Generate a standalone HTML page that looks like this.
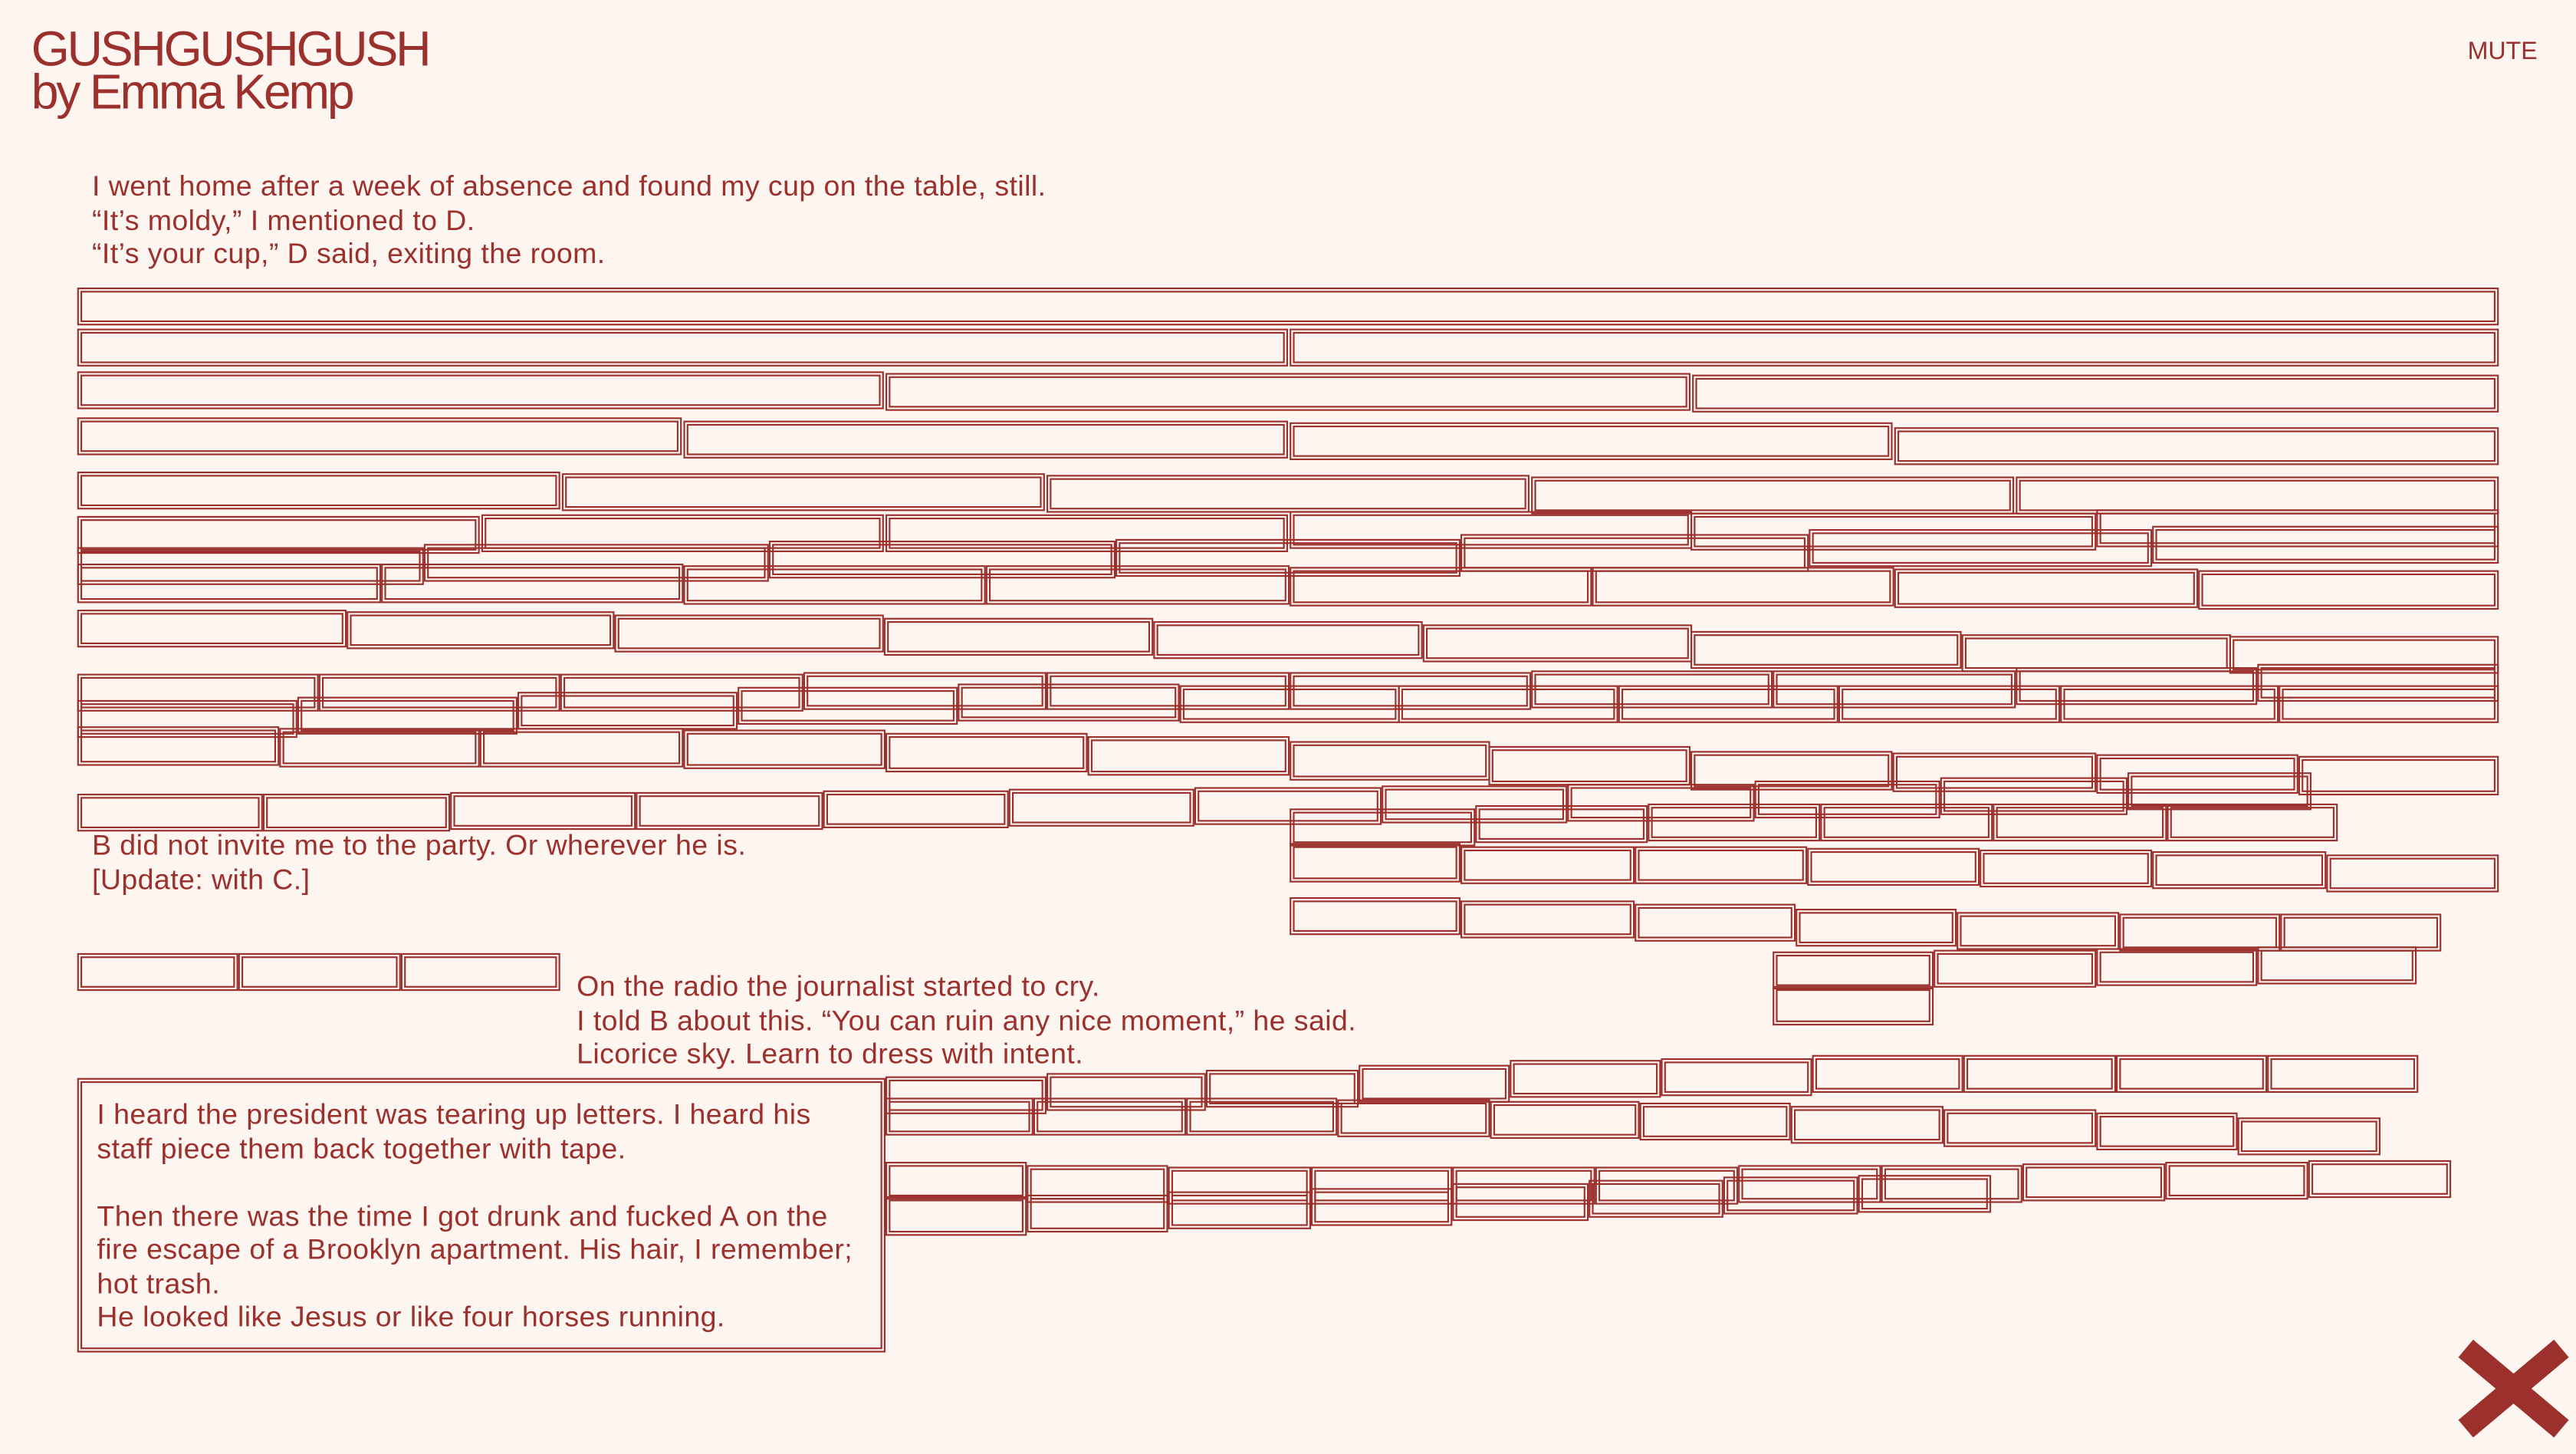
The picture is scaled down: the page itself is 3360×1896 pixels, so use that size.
<!DOCTYPE html>
<html><head><meta charset="utf-8">
<style>
html,body{margin:0;padding:0;background:#fcf5f0;}
body{width:3360px;height:1896px;overflow:hidden;position:relative;}
#w{position:absolute;left:0;top:0;width:1568px;height:885px;transform:scale(2.142857);transform-origin:0 0;color:#9b302d;font-family:"Liberation Sans",Arial,sans-serif;}
#w i{position:absolute;display:block;height:23px;border:3.4px double #9b302d;box-sizing:border-box;}
.t{position:absolute;font-size:17.5px;line-height:20.5px;letter-spacing:0.2px;white-space:nowrap;}
#title{position:absolute;left:19px;top:18px;font-size:30px;line-height:26px;letter-spacing:-1.5px;}
#mute{position:absolute;left:1502px;top:23px;font-size:15px;}
.x{position:absolute;left:1492px;top:838px;width:76px;height:14px;background:#9b302d;}
</style></head><body><div id="w">
<div id="title">GUSHGUSHGUSH<br>by Emma Kemp</div>
<div id="mute">MUTE</div>
<div class="t" style="left:56px;top:103px">I went home after a week of absence and found my cup on the table, still.<br>“It’s moldy,” I mentioned to D.<br>“It’s your cup,” D said, exiting the room.</div>
<div class="t" style="left:56px;top:504px">B did not invite me to the party. Or wherever he is.<br>[Update: with C.]</div>
<div class="t" style="left:351px;top:590px">On the radio the journalist started to cry.<br>I told B about this. “You can ruin any nice moment,” he said.<br>Licorice sky. Learn to dress with intent.</div>

<i style="left:47px;top:175px;width:1474px"></i>
<i style="left:47px;top:200px;width:737px"></i><i style="left:785px;top:200px;width:736px"></i>
<i style="left:47px;top:226px;width:491px"></i><i style="left:539px;top:227px;width:490px"></i><i style="left:1030px;top:228px;width:491px"></i>
<i style="left:47px;top:254px;width:368px"></i><i style="left:416px;top:256px;width:368px"></i><i style="left:785px;top:257px;width:367px"></i><i style="left:1153px;top:260px;width:368px"></i>
<i style="left:47px;top:287px;width:294px"></i><i style="left:342px;top:288px;width:294px"></i><i style="left:637px;top:289px;width:294px"></i><i style="left:932px;top:290px;width:294px"></i><i style="left:1227px;top:290px;width:294px"></i>
<i style="left:47px;top:314px;width:245px"></i><i style="left:293px;top:313px;width:245px"></i><i style="left:539px;top:313px;width:245px"></i><i style="left:785px;top:311px;width:245px"></i><i style="left:1029px;top:312px;width:247px"></i><i style="left:1276px;top:310px;width:245px"></i>
<i style="left:47px;top:333px;width:211px"></i><i style="left:258px;top:331px;width:210px"></i><i style="left:468px;top:329px;width:211px"></i><i style="left:679px;top:328px;width:210px"></i><i style="left:889px;top:325px;width:212px"></i><i style="left:1101px;top:322px;width:209px"></i><i style="left:1310px;top:320px;width:211px"></i>
<i style="left:47px;top:343px;width:185px;height:24px"></i><i style="left:232px;top:343px;width:184px;height:24px"></i><i style="left:416px;top:344px;width:184px;height:24px"></i><i style="left:600px;top:344px;width:185px;height:24px"></i><i style="left:785px;top:345px;width:184px;height:24px"></i><i style="left:969px;top:345px;width:184px;height:24px"></i><i style="left:1153px;top:346px;width:185px;height:24px"></i><i style="left:1338px;top:347px;width:183px;height:24px"></i>
<i style="left:47px;top:371px;width:164px"></i><i style="left:211px;top:372px;width:163px"></i><i style="left:374px;top:374px;width:164px"></i><i style="left:538px;top:376px;width:164px"></i><i style="left:702px;top:378px;width:164px"></i><i style="left:866px;top:380px;width:164px"></i><i style="left:1029px;top:384px;width:165px"></i><i style="left:1194px;top:386px;width:164px"></i><i style="left:1357px;top:387px;width:164px"></i>
<i style="left:47px;top:410px;width:147px"></i><i style="left:194px;top:410px;width:147px"></i><i style="left:341px;top:410px;width:148px"></i><i style="left:489px;top:409px;width:148px"></i><i style="left:637px;top:409px;width:148px"></i><i style="left:785px;top:409px;width:147px"></i><i style="left:932px;top:408px;width:147px"></i><i style="left:1079px;top:408px;width:148px"></i><i style="left:1227px;top:406px;width:147px"></i><i style="left:1374px;top:404px;width:147px"></i>
<i style="left:47px;top:426px;width:134px"></i><i style="left:181px;top:424px;width:134px"></i><i style="left:315px;top:421px;width:134px"></i><i style="left:449px;top:418px;width:134px"></i><i style="left:583px;top:416px;width:135px"></i><i style="left:718px;top:417px;width:134px"></i><i style="left:851px;top:417px;width:134px"></i><i style="left:985px;top:417px;width:134px"></i><i style="left:1119px;top:417px;width:135px"></i><i style="left:1254px;top:417px;width:133px"></i><i style="left:1387px;top:417px;width:134px"></i>
<i style="left:47px;top:442px;width:123px;height:24px"></i><i style="left:170px;top:443px;width:122px;height:24px"></i><i style="left:292px;top:443px;width:124px;height:24px"></i><i style="left:416px;top:444px;width:123px;height:24px"></i><i style="left:539px;top:446px;width:123px;height:24px"></i><i style="left:662px;top:448px;width:123px;height:24px"></i><i style="left:785px;top:451px;width:122px;height:24px"></i><i style="left:906px;top:454px;width:123px;height:24px"></i><i style="left:1029px;top:457px;width:123px;height:24px"></i><i style="left:1152px;top:458px;width:124px;height:24px"></i><i style="left:1276px;top:459px;width:123px;height:24px"></i><i style="left:1399px;top:460px;width:122px;height:24px"></i>
<i style="left:47px;top:483px;width:113px"></i><i style="left:160px;top:483px;width:114px"></i><i style="left:274px;top:482px;width:113px"></i><i style="left:387px;top:482px;width:114px"></i><i style="left:501px;top:481px;width:113px"></i><i style="left:614px;top:480px;width:113px"></i><i style="left:727px;top:479px;width:114px"></i><i style="left:841px;top:478px;width:113px"></i><i style="left:954px;top:477px;width:114px"></i><i style="left:1068px;top:475px;width:113px"></i><i style="left:1181px;top:473px;width:114px"></i><i style="left:1295px;top:470px;width:112px"></i>
<i style="left:785px;top:492px;width:113px"></i><i style="left:898px;top:490px;width:105px"></i><i style="left:1003px;top:489px;width:105px"></i><i style="left:1108px;top:489px;width:105px"></i><i style="left:1213px;top:489px;width:106px"></i><i style="left:1319px;top:489px;width:104px"></i>
<i style="left:785px;top:513px;width:104px;height:24px"></i><i style="left:889px;top:515px;width:106px"></i><i style="left:995px;top:515px;width:105px"></i><i style="left:1100px;top:516px;width:105px"></i><i style="left:1205px;top:517px;width:105px"></i><i style="left:1310px;top:518px;width:106px"></i><i style="left:1416px;top:520px;width:105px"></i>
<i style="left:785px;top:546px;width:104px"></i><i style="left:889px;top:548px;width:106px"></i><i style="left:995px;top:550px;width:98px"></i><i style="left:1093px;top:553px;width:98px"></i><i style="left:1191px;top:555px;width:99px"></i><i style="left:1290px;top:556px;width:98px"></i><i style="left:1388px;top:556px;width:98px"></i>
<i style="left:1079px;top:579px;width:98px"></i><i style="left:1177px;top:578px;width:99px"></i><i style="left:1276px;top:577px;width:98px"></i><i style="left:1374px;top:576px;width:97px"></i>
<i style="left:1079px;top:600px;width:98px;height:24px"></i>
<i style="left:47px;top:580px;width:98px"></i><i style="left:145px;top:580px;width:99px"></i><i style="left:244px;top:580px;width:97px"></i>

<i style="left:539px;top:655px;width:98px"></i><i style="left:637px;top:653px;width:97px"></i><i style="left:734px;top:651px;width:93px"></i><i style="left:827px;top:648px;width:92px"></i><i style="left:919px;top:645px;width:92px"></i><i style="left:1011px;top:644px;width:92px"></i><i style="left:1103px;top:642px;width:92px"></i><i style="left:1195px;top:642px;width:93px"></i><i style="left:1288px;top:642px;width:92px"></i><i style="left:1380px;top:642px;width:92px"></i>
<i style="left:539px;top:668px;width:90px"></i><i style="left:629px;top:668px;width:93px"></i><i style="left:722px;top:668px;width:92px"></i><i style="left:814px;top:669px;width:93px"></i><i style="left:907px;top:670px;width:91px"></i><i style="left:998px;top:671px;width:92px"></i><i style="left:1090px;top:673px;width:93px"></i><i style="left:1183px;top:675px;width:93px"></i><i style="left:1276px;top:677px;width:86px"></i><i style="left:1362px;top:680px;width:87px"></i>
<i style="left:539px;top:707px;width:86px"></i><i style="left:625px;top:709px;width:86px"></i><i style="left:711px;top:710px;width:87px"></i><i style="left:798px;top:710px;width:86px"></i><i style="left:884px;top:710px;width:87px"></i><i style="left:971px;top:710px;width:87px"></i><i style="left:1058px;top:709px;width:87px"></i><i style="left:1145px;top:709px;width:86px"></i><i style="left:1231px;top:708px;width:87px"></i><i style="left:1318px;top:707px;width:87px"></i><i style="left:1405px;top:706px;width:87px"></i>
<i style="left:539px;top:728px;width:86px;height:24px"></i><i style="left:625px;top:727px;width:86px"></i><i style="left:711px;top:725px;width:87px"></i><i style="left:798px;top:723px;width:86px"></i><i style="left:884px;top:720px;width:83px"></i><i style="left:967px;top:718px;width:82px"></i><i style="left:1049px;top:716px;width:82px"></i><i style="left:1131px;top:715px;width:81px"></i>

<i style="left:47px;top:656px;width:492px;height:167px"></i>
<div class="t" style="left:59px;top:668px">I heard the president was tearing up letters. I heard his<br>staff piece them back together with tape.<br><br>Then there was the time I got drunk and fucked A on the<br>fire escape of a Brooklyn apartment. His hair, I remember;<br>hot trash.<br>He looked like Jesus or like four horses running.</div>

<div class="x" style="transform:rotate(40deg)"></div>
<div class="x" style="transform:rotate(-40deg)"></div>
</div></body></html>
